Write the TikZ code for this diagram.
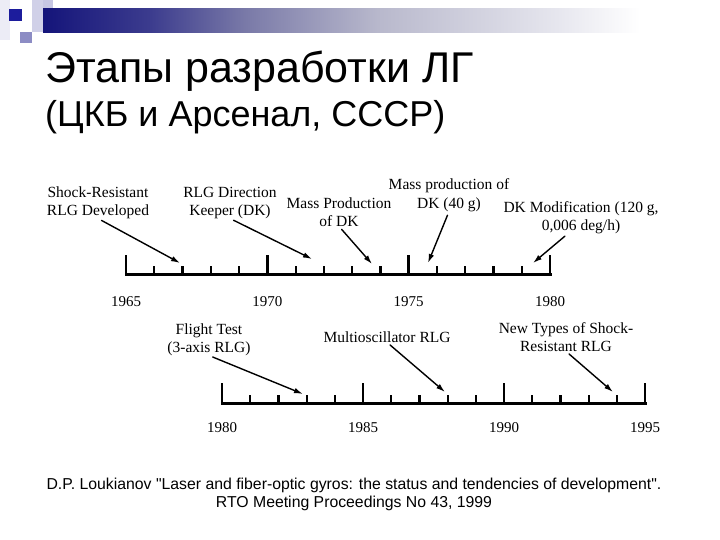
\documentclass[tikz,border=0pt]{standalone}
\usepackage{fontspec}
\setmainfont{Liberation Serif}
\newfontfamily\slidesans{Liberation Sans}
\usepackage{tikz}
\usetikzlibrary{arrows.meta}
\usetikzlibrary{positioning}

\definecolor{barnavy}{HTML}{14147A}
\definecolor{barmidA}{HTML}{3C3C8E}
\definecolor{barmidB}{HTML}{7A7AA8}
\definecolor{barmidC}{HTML}{B8B8CC}
\definecolor{barmidD}{HTML}{E6E6EE}
\definecolor{sqdark}{HTML}{1C1C9C}
\definecolor{sqmid}{HTML}{8C8CC4}
\definecolor{sqlight}{HTML}{D0D0E8}
\definecolor{sqpale}{HTML}{ECECF6}
\pgfdeclarehorizontalshading{barfade}{100bp}{color(0bp)=(barnavy); color(25bp)=(barnavy);
  color(34bp)=(barmidA); color(42bp)=(barmidB); color(53bp)=(barmidC);
  color(68bp)=(barmidD); color(75bp)=(white); color(100bp)=(white)}

\begin{document}
\begin{tikzpicture}[line cap=round,line join=round,>={Latex[length=9pt,width=5.5pt]},x=1pt,y=-1pt,
  axisline/.style={line width=3pt,line cap=rect},
  majortick/.style={line width=2.6pt,line cap=butt},
  minortick/.style={line width=2.2pt,line cap=butt},
  year/.style={font=\fontsize{15}{18}\selectfont,anchor=base,inner sep=0pt},
  event/.style={font=\fontsize{15.5}{18}\selectfont,align=center,anchor=base,inner sep=0pt},
  pointer/.style={->,line width=1.4pt,shorten <=4pt}]
\useasboundingbox (0,0) rectangle (720,540);
% slide decoration
\fill[sqpale] (0,0) rectangle (10,40);
\fill[sqlight] (32,0) rectangle (53,20);
\fill[sqlight!85!sqmid] (43,0) rectangle (53,20);
\fill[sqlight] (32,20) rectangle (43,32);
\fill[sqmid] (20,32) rectangle (32,43);
\fill[sqdark] (9,9) rectangle (22,21);
\shade[shading=barfade] (43,9) rectangle (640,33);
% title
\node[anchor=base west,inner sep=0pt,font=\slidesans\fontsize{43}{44}\selectfont] (title) at (45,83) {Этапы разработки ЛГ};
\node[anchor=base west,inner sep=0pt,font=\slidesans\fontsize{36}{40}\selectfont] (subtitle) at (45,127) {(ЦКБ и Арсенал, СССР)};
% upper time line 1965-1980
\foreach \i in {0,5,10,15}
\draw[majortick] (126+28.27*\i,274) -- (126+28.27*\i,255);
\foreach \i in {1,2,3,4,6,7,8,9,11,12,13,14}
\draw[minortick] (126+28.27*\i,274) -- (126+28.27*\i,266);
\draw[axisline] (126,274) -- (550,274);
\foreach \yr [count=\k from 0] in {1965,1970,1975,1980}
\node[year] (up\yr) at (126+141.35*\k,306) {\yr};
% lower time line 1980-1995
\foreach \i in {0,5,10,15}
\draw[majortick] (222+28.2*\i,403) -- (222+28.2*\i,383);
\foreach \i in {1,2,3,4,6,7,8,9,11,12,13,14}
\draw[minortick] (222+28.2*\i,403) -- (222+28.2*\i,395);
\draw[axisline] (222,403) -- (645,403);
\foreach \yr [count=\k from 0] in {1980,1985,1990,1995}
\node[year] (low\yr) at (222+141*\k,432) {\yr};
% events (base = last line)
\node[event] (shockdev) at (98,215) {Shock-Resistant\\RLG Developed};
\node[event] (dkeeper) at (230,215) {RLG Direction\\Keeper (DK)};
\node[event] (massdk) at (339,226) {Mass Production\\of DK};
\node[event] (mass40) at (449,208) {Mass production of\\DK (40 g)};
\node[event] (dkmod) at (581,230) {DK Modification (120 g,\\0,006 deg/h)};
\node[event] (flight) at (209,352) {Flight Test\\(3-axis RLG)};
\node[event] (multiosc) at (387,342) {Multioscillator RLG};
\node[event] (newshock) at (566,351) {New Types of Shock-\\Resistant RLG};
\coordinate (tShockdev) at (180,263);
\coordinate (tDkeeper) at (312,259);
\coordinate (tMassdk) at (372,264);
\coordinate (tMass40) at (428,263);
\coordinate (tDkmod) at (533,263);
\coordinate (tFlight) at (303,394);
\coordinate (tMultiosc) at (445,392);
\coordinate (tNewshock) at (613,392);
\draw[pointer] (shockdev.south) -- (tShockdev);
\draw[pointer] (dkeeper.south) -- (tDkeeper);
\draw[pointer] (massdk.south) -- (tMassdk);
\draw[pointer] (mass40.south) -- (tMass40);
\draw[pointer] ([xshift=-13pt]dkmod.south) -- (tDkmod);
\draw[pointer] (flight.south) -- (tFlight);
\draw[pointer] (multiosc.south) -- (tMultiosc);
\draw[pointer] (newshock.south) -- (tNewshock);
% source
\node[anchor=base,align=center,inner sep=0pt,font=\slidesans\fontsize{15.8}{18}\selectfont] (source) at (354,507)
{D.P. Loukianov "Laser and fiber-optic gyros: the status and tendencies of development".\\RTO Meeting Proceedings No 43, 1999};
\end{tikzpicture}
\end{document}
